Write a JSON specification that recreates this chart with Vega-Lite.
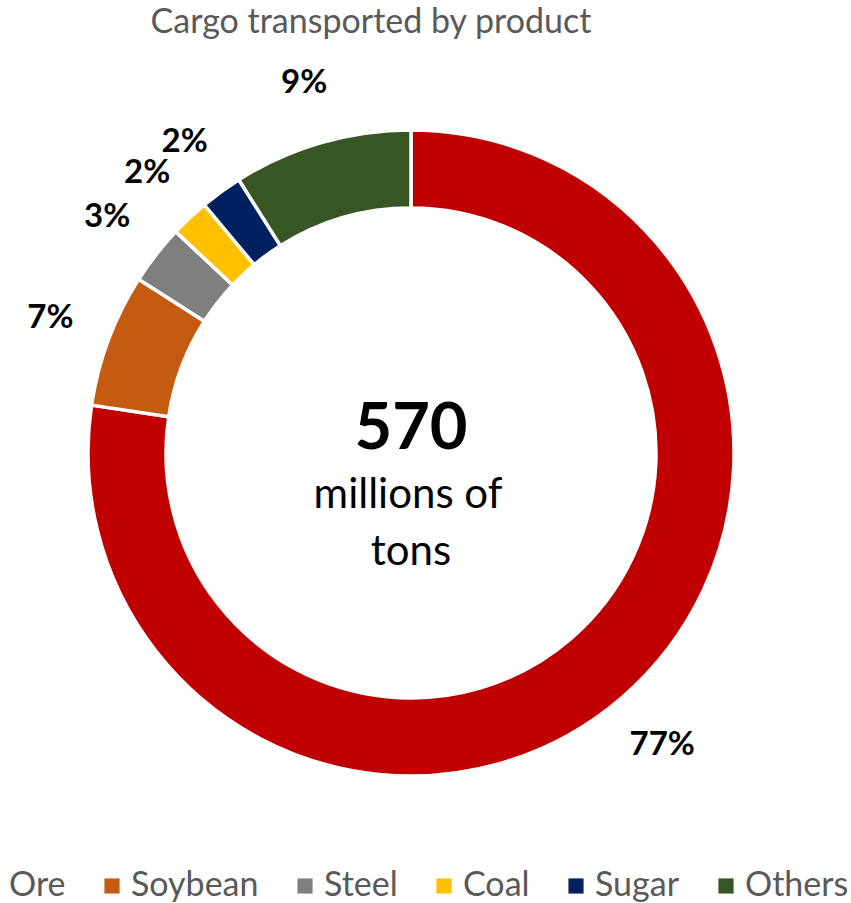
{
  "$schema": "https://vega.github.io/schema/vega-lite/v6.json",
  "width": 822,
  "height": 826,
  "autosize": "none",
  "padding": {"top": 40, "left": 0, "right": 29, "bottom": 37},
  "background": "white",
  "config": {"view": {"stroke": null}, "font": "Lato"},
  "title": {
    "text": "Cargo transported by product",
    "fontSize": 34,
    "font": "Lato",
    "fontWeight": "normal",
    "color": "#595959",
    "anchor": "middle",
    "dx": -40,
    "offset": 0
  },
  "data": {
    "values": [
      {"product": "Ore", "tons": 441, "idx": 1, "pct": "77%"},
      {"product": "Soybean", "tons": 38, "idx": 2, "pct": "7%"},
      {"product": "Steel", "tons": 17, "idx": 3, "pct": "3%"},
      {"product": "Coal", "tons": 11, "idx": 4, "pct": "2%"},
      {"product": "Sugar", "tons": 12, "idx": 5, "pct": "2%"},
      {"product": "Others", "tons": 51, "idx": 6, "pct": "9%"}
    ]
  },
  "layer": [
    {
      "mark": {"type": "arc", "radius": 323, "radius2": 245, "stroke": "white", "strokeWidth": 3.5},
      "encoding": {
        "theta": {"field": "tons", "type": "quantitative", "stack": true},
        "order": {"field": "idx", "type": "quantitative"},
        "color": {
          "field": "product",
          "type": "nominal",
          "scale": {
            "domain": ["Ore", "Soybean", "Steel", "Coal", "Sugar", "Others"],
            "range": ["#C00000", "#C55A11", "#7F7F7F", "#FFC000", "#002060", "#375623"]
          },
          "legend": {
            "orient": "none",
            "legendX": -27,
            "legendY": 829,
            "direction": "horizontal",
            "title": null,
            "symbolType": "square",
            "symbolSize": 230,
            "symbolStrokeWidth": 0,
            "labelFontSize": 34,
            "labelColor": "#595959",
            "labelFont": "Lato",
            "labelOffset": 2,
            "columnPadding": 29,
            "labelLimit": 300
          }
        }
      }
    },
    {
      "mark": {"type": "text", "radius": 385, "fontSize": 33, "fontWeight": "bold", "font": "Lato", "color": "black"},
      "encoding": {
        "theta": {"field": "tons", "type": "quantitative", "stack": true},
        "order": {"field": "idx", "type": "quantitative"},
        "text": {"field": "pct", "type": "nominal"}
      }
    },
    {
      "data": {"values": [{"t": "570"}]},
      "mark": {"type": "text", "fontSize": 65, "fontWeight": "bold", "font": "Lato", "color": "black", "baseline": "alphabetic", "dy": -4},
      "encoding": {"text": {"field": "t", "type": "nominal"}}
    },
    {
      "data": {"values": [{"t": "millions of"}]},
      "mark": {"type": "text", "fontSize": 42, "font": "Lato", "color": "black", "baseline": "alphabetic", "dy": 55, "dx": -3},
      "encoding": {"text": {"field": "t", "type": "nominal"}}
    },
    {
      "data": {"values": [{"t": "tons"}]},
      "mark": {"type": "text", "fontSize": 42, "font": "Lato", "color": "black", "baseline": "alphabetic", "dy": 112},
      "encoding": {"text": {"field": "t", "type": "nominal"}}
    }
  ]
}
